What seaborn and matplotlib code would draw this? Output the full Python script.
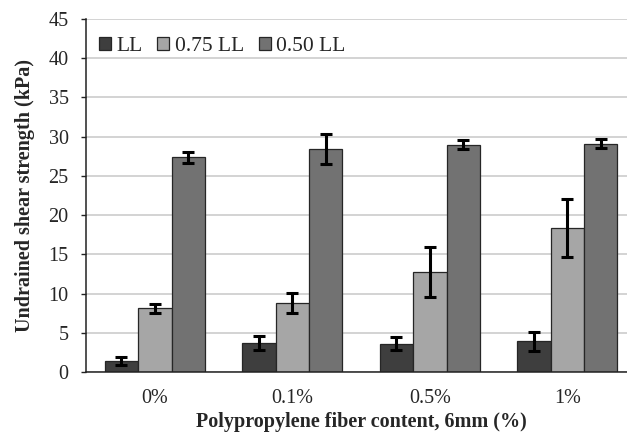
import matplotlib
matplotlib.use('Agg')
import matplotlib.pyplot as plt
import seaborn as sns
import numpy as np
import pandas as pd

fiber = ['0%', '0.1%', '0.5%', '1%']
series = ['LL', '0.75 LL', '0.50 LL']
ll = [1.4, 3.7, 3.6, 3.9]
ll_err = [0.5, 0.9, 0.8, 1.2]
ll75 = [8.1, 8.8, 12.7, 18.4]
ll75_err = [0.6, 1.3, 3.2, 3.7]
ll50 = [27.4, 28.4, 29.0, 29.1]
ll50_err = [0.7, 1.9, 0.6, 0.6]

colors = ['#3e3e3e', '#a6a6a6', '#727272']

df = pd.DataFrame({
    'fiber': fiber * 3,
    'series': [s for s in series for _ in fiber],
    'value': ll + ll75 + ll50,
    'err': ll_err + ll75_err + ll50_err,
})

sns.set_style('white')
plt.rcParams['font.family'] = ['Liberation Serif', 'DejaVu Serif']

fig = plt.figure(figsize=(6.27, 4.36), dpi=100)
# axes runs a bit past the right edge, like the cropped original
ax = fig.add_axes([0.1372, 0.1468, 0.8772, 0.8096])
sns.barplot(data=df, x='fiber', y='value', hue='series', palette=colors,
            width=0.73, gap=0, edgecolor='#262626', linewidth=0.9, ax=ax,
            errorbar=None, legend=True)

# error bars on top of each bar
for cont, s in zip(ax.containers, series):
    sub = df[df['series'] == s]
    xs = [p.get_x() + p.get_width() / 2 for p in cont.patches]
    ax.errorbar(xs, sub['value'].values, yerr=sub['err'].values, fmt='none',
                ecolor='black', elinewidth=2.2, capsize=4.5, capthick=2.2, zorder=5)

ax.set_ylim(0, 45)
ax.set_yticks(np.arange(0, 46, 5))
ax.set_xlim(-0.5, 3.5)
ax.yaxis.grid(True, color='#d0d0d0', linewidth=1.3)
ax.set_axisbelow(True)
for side in ['top', 'right']:
    ax.spines[side].set_visible(False)
ax.spines['left'].set_color('#222222')
ax.spines['bottom'].set_color('#222222')
ax.spines['left'].set_linewidth(1.1)
ax.spines['bottom'].set_linewidth(1.1)
ax.tick_params(axis='y', labelsize=14.5, length=3.5, width=1, color='#222222',
               left=True, direction='out', pad=9)
ax.tick_params(axis='x', labelsize=14.5, length=0, pad=12)
ax.set_xlabel('Polypropylene fiber content, 6mm (%)', fontsize=14.5,
              fontweight='bold', labelpad=3)
ax.set_ylabel('Undrained shear strength (kPa)', fontsize=14.5,
              fontweight='bold', labelpad=10)

ax.legend(loc='upper left', bbox_to_anchor=(0.0, 0.985), ncol=3, frameon=False,
          fontsize=15.5, handlelength=0.55, handleheight=0.55, handletextpad=0.25,
          columnspacing=0.7, borderaxespad=0.3, borderpad=0.3)

fig.savefig('out.png', dpi=100)
